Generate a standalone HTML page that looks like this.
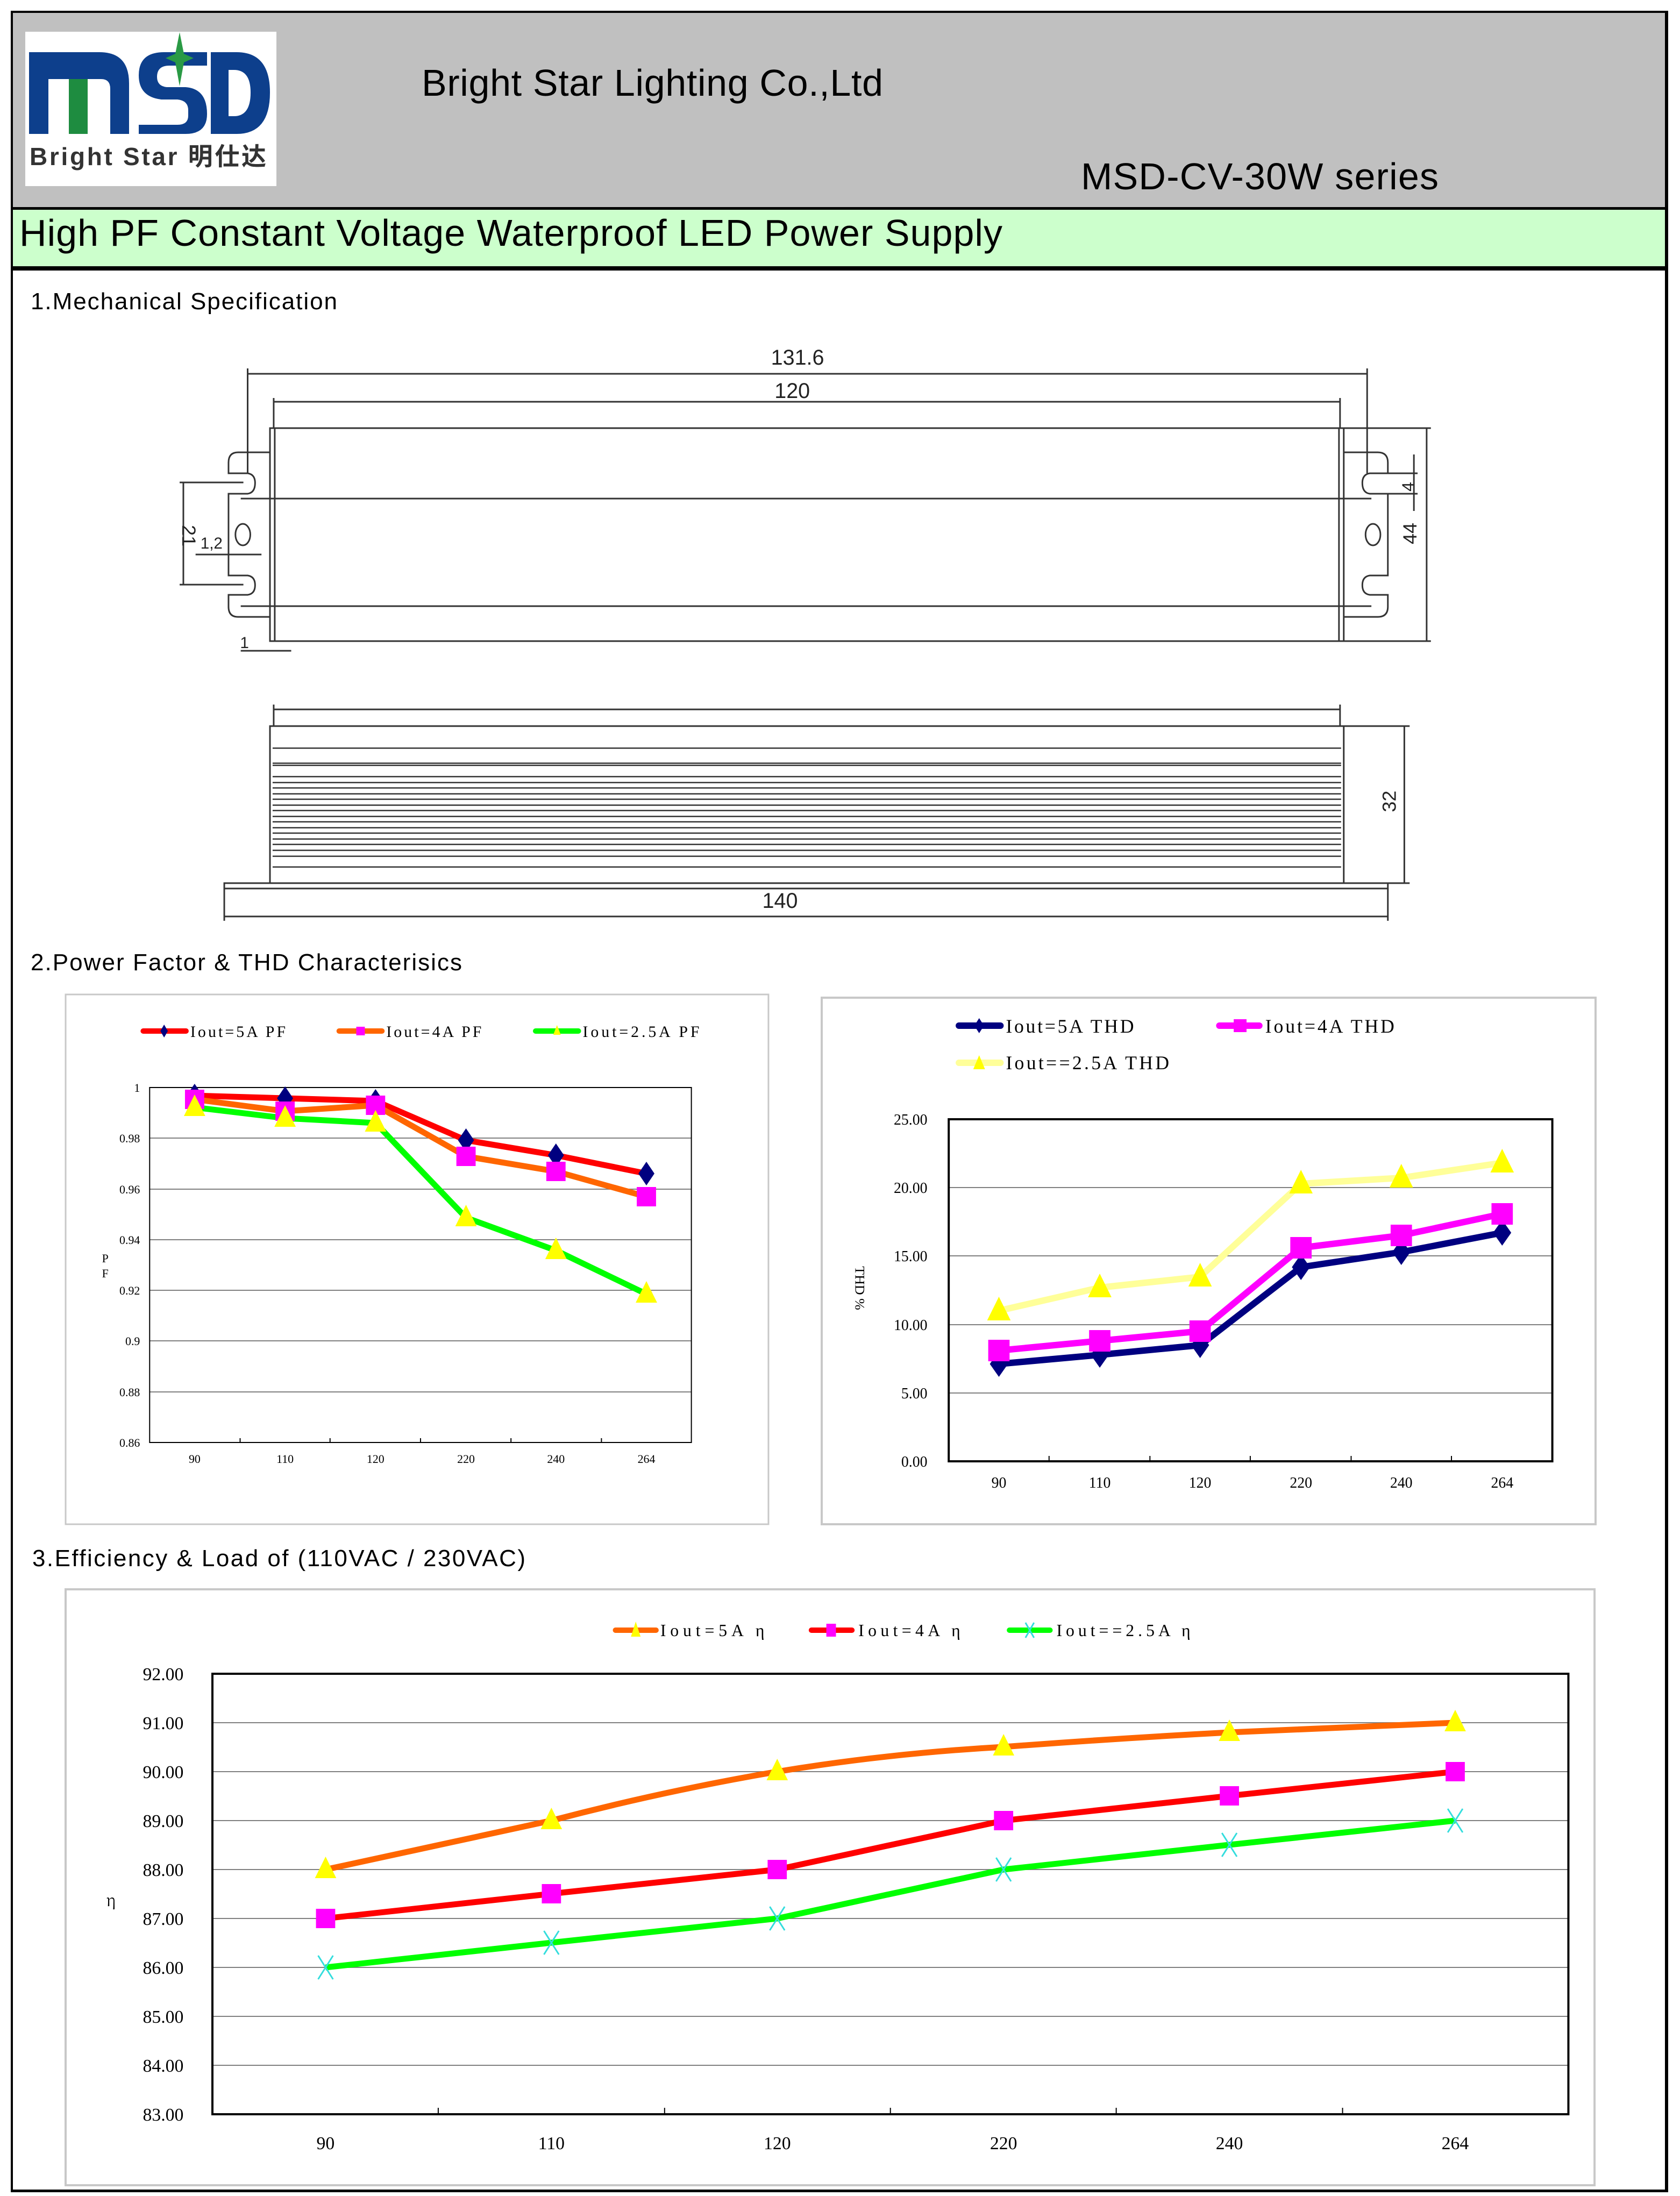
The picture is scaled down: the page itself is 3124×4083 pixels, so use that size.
<!DOCTYPE html>
<html><head><meta charset="utf-8"><style>html,body{margin:0;padding:0;background:#fff}svg{display:block}</style></head>
<body>
<svg width="3124" height="4083" viewBox="0 0 3124 4083" xmlns="http://www.w3.org/2000/svg">
<defs>
<path id="tri" d="M0,-24 L20,16 L-20,16 Z"/>
<path id="dia" d="M0,-22 L15,0 L0,22 L-15,0 Z"/>
<rect id="sq" x="-18" y="-18" width="36" height="36"/>
<path id="tri2" d="M0,-26 L22,18 L-22,18 Z"/>
<path id="dia2" d="M0,-24 L17,0 L0,24 L-17,0 Z"/>
<rect id="sq2" x="-20" y="-20" width="40" height="40"/>
<path id="xm" d="M-14,-22 L14,22 M14,-22 L-14,22" fill="none" stroke="#33dddd" stroke-width="3"/>
</defs>
<rect width="3124" height="4083" fill="#fff"/>
<!-- header -->
<rect x="22" y="22" width="3078" height="365" fill="#c0c0c0"/>
<rect x="22" y="389" width="3078" height="107" fill="#ccffcc"/>
<rect x="20" y="20" width="3082" height="4" fill="#000"/>
<rect x="20" y="385" width="3082" height="5" fill="#000"/>
<rect x="20" y="495" width="3082" height="8" fill="#000"/>
<rect x="20" y="20" width="4" height="4056" fill="#000"/>
<rect x="3096" y="20" width="6" height="4056" fill="#000"/>
<rect x="20" y="4071" width="3082" height="5" fill="#000"/>
<!-- logo -->
<rect x="47" y="59" width="467" height="287" fill="#fff"/>
<g fill="#0d3f8c">
<path d="M54,97 H185 Q240,97 240,155 V249 H205 V165 Q205,147 188,147 H90 V249 H54 Z"/>
<path d="M385,97 H305 Q258,97 258,140 Q258,180 300,185 H330 Q350,187 350,205 V215 Q350,232 330,232 H258 V249 H345 Q385,249 385,212 Q385,165 345,162 H310 Q292,160 292,143 Q292,122 315,122 H385 Z"/>
<path d="M392,97 H440 Q502,97 502,172 Q502,249 440,249 H392 Z M425,130 V216 H435 Q466,216 466,172 Q466,130 435,130 Z" fill-rule="evenodd"/>
</g>
<rect x="128" y="147" width="35" height="102" fill="#1e8c40"/>
<path d="M334,60 L342,100 L360,108 L342,116 L334,160 L326,116 L308,108 L326,100 Z" fill="#2a9a45"/>
<text x="55" y="307" font-family="Liberation Sans, 'Noto Sans CJK SC', sans-serif" font-weight="bold" font-size="46" fill="#333" textLength="440">Bright Star 明仕达</text>
<g font-family="Liberation Sans, sans-serif" fill="#000">
<text x="784" y="178" font-size="70" textLength="858">Bright Star Lighting Co.,Ltd</text>
<text x="2010" y="352" font-size="70" textLength="665">MSD-CV-30W series</text>
<text x="36" y="457" font-size="70" textLength="1828">High PF Constant Voltage Waterproof LED Power Supply</text>
<text x="57" y="575" font-size="44" textLength="570">1.Mechanical Specification</text>
<text x="57" y="1804" font-size="44" textLength="802">2.Power Factor &amp; THD Characterisics</text>
<text x="60" y="2912" font-size="44" textLength="917">3.Efficiency &amp; Load of (110VAC / 230VAC)</text>
</g>
<!-- mechanical drawing -->
<g transform="translate(502,0) scale(0.988,1) translate(-510,0)">
<g stroke="#333" stroke-width="3" fill="none">
<line x1="468" y1="695" x2="2575" y2="695"/>
<line x1="468" y1="685" x2="468" y2="880"/><line x1="2575" y1="685" x2="2575" y2="880"/>
<line x1="517" y1="747" x2="2524" y2="747"/>
<line x1="517" y1="740" x2="517" y2="796"/><line x1="2524" y1="740" x2="2524" y2="796"/>
<rect x="510" y="796" width="2021" height="396"/>
<line x1="519" y1="796" x2="519" y2="1192"/><line x1="2522" y1="796" x2="2522" y2="1192"/>
<path d="M510,841 H450 Q432,841 432,860 V880 H468 Q482,882 482,898 Q482,916 468,918 H432 V1070 H468 Q482,1072 482,1088 Q482,1104 468,1106 H432 V1128 Q432,1147 450,1147 H510"/>
<path d="M2531,841 H2595 Q2614,841 2614,860 V880 H2580 Q2566,882 2566,898 Q2566,916 2580,918 H2614 V1070 H2580 Q2566,1072 2566,1088 Q2566,1104 2580,1106 H2614 V1128 Q2614,1147 2595,1147 H2531"/>
<ellipse cx="459" cy="994" rx="14" ry="20"/>
<ellipse cx="2586" cy="994" rx="14" ry="20"/>
<line x1="455" y1="927" x2="2583" y2="927"/>
<line x1="455" y1="1127" x2="2583" y2="1127"/>
<line x1="2531" y1="796" x2="2695" y2="796"/><line x1="2531" y1="1192" x2="2695" y2="1192"/>
<line x1="2687" y1="796" x2="2687" y2="1192"/>
<line x1="2663" y1="845" x2="2663" y2="950"/>
<line x1="2614" y1="880" x2="2670" y2="880"/><line x1="2614" y1="918" x2="2670" y2="918"/>
<line x1="347" y1="897" x2="347" y2="1087"/>
<line x1="340" y1="897" x2="460" y2="897"/><line x1="340" y1="1087" x2="460" y2="1087"/>
<line x1="370" y1="1031" x2="494" y2="1031"/>
<line x1="455" y1="1210" x2="550" y2="1210"/>
<line x1="517" y1="1319" x2="2524" y2="1319"/>
<line x1="517" y1="1310" x2="517" y2="1350"/><line x1="2524" y1="1310" x2="2524" y2="1350"/>
<rect x="510" y="1350" width="2021" height="292"/>
<path d="M510,1642 H424 V1652 H2614 V1642 H2531"/>
<line x1="424" y1="1704" x2="2614" y2="1704"/>
<line x1="424" y1="1652" x2="424" y2="1712"/><line x1="2614" y1="1652" x2="2614" y2="1712"/>
<line x1="2531" y1="1350" x2="2655" y2="1350"/><line x1="2531" y1="1642" x2="2655" y2="1642"/>
<line x1="2645" y1="1350" x2="2645" y2="1642"/>
</g>
<g stroke="#333" stroke-width="2.5">
<line x1="515" y1="1391" x2="2526" y2="1391"/><line x1="515" y1="1419" x2="2526" y2="1419"/>
<line x1="515" y1="1423" x2="2526" y2="1423"/><line x1="515" y1="1444" x2="2526" y2="1444"/>
<line x1="515" y1="1455" x2="2526" y2="1455"/><line x1="515" y1="1465" x2="2526" y2="1465"/>
<line x1="515" y1="1476" x2="2526" y2="1476"/><line x1="515" y1="1486" x2="2526" y2="1486"/>
<line x1="515" y1="1497" x2="2526" y2="1497"/><line x1="515" y1="1507" x2="2526" y2="1507"/>
<line x1="515" y1="1518" x2="2526" y2="1518"/><line x1="515" y1="1528" x2="2526" y2="1528"/>
<line x1="515" y1="1539" x2="2526" y2="1539"/><line x1="515" y1="1549" x2="2526" y2="1549"/>
<line x1="515" y1="1560" x2="2526" y2="1560"/><line x1="515" y1="1570" x2="2526" y2="1570"/>
<line x1="515" y1="1581" x2="2526" y2="1581"/><line x1="515" y1="1592" x2="2526" y2="1592"/>
<line x1="515" y1="1612" x2="2526" y2="1612"/>
</g>
<g font-family="Liberation Sans, sans-serif" fill="#222" font-size="40" text-anchor="middle">
<text x="1503" y="678">131.6</text>
<text x="1493" y="740">120</text>
<text x="1470" y="1688">140</text>
<text x="400" y="1020" font-size="30">1,2</text>
<text x="462" y="1205" font-size="30">1</text>
<text transform="translate(2668,992) rotate(-90)" font-size="36">44</text>
<text transform="translate(2663,905) rotate(-90)" font-size="32">4</text>
<text transform="translate(345,996) rotate(90)" font-size="36">21</text>
<text transform="translate(2629,1490) rotate(-90)" font-size="36">32</text>
</g>
</g>
<!-- PF chart -->
<g transform="translate(122,0) scale(0.9954,1) translate(-123,0)">
<rect x="123" y="1849" width="1313" height="985" fill="#fff" stroke="#c8c8c8" stroke-width="3"/>
<g stroke="#808080" stroke-width="2">
<line x1="280" y1="2116" x2="1292" y2="2116"/><line x1="280" y1="2211" x2="1292" y2="2211"/>
<line x1="280" y1="2305" x2="1292" y2="2305"/><line x1="280" y1="2399" x2="1292" y2="2399"/>
<line x1="280" y1="2493" x2="1292" y2="2493"/><line x1="280" y1="2588" x2="1292" y2="2588"/>
</g>
<rect x="280" y="2022" width="1012" height="660" fill="none" stroke="#000" stroke-width="2"/>
<g stroke="#000" stroke-width="2">
<line x1="449" y1="2682" x2="449" y2="2674"/><line x1="617" y1="2682" x2="617" y2="2674"/>
<line x1="786" y1="2682" x2="786" y2="2674"/><line x1="955" y1="2682" x2="955" y2="2674"/>
<line x1="1124" y1="2682" x2="1124" y2="2674"/>
</g>
<g font-family="Liberation Serif, serif" font-size="22" fill="#000" text-anchor="end">
<text x="262" y="2030">1</text><text x="262" y="2124">0.98</text><text x="262" y="2219">0.96</text>
<text x="262" y="2313">0.94</text><text x="262" y="2407">0.92</text><text x="262" y="2501">0.9</text>
<text x="262" y="2596">0.88</text><text x="262" y="2690">0.86</text>
</g>
<g font-family="Liberation Serif, serif" font-size="22" fill="#000" text-anchor="middle">
<text x="364" y="2720">90</text><text x="533" y="2720">110</text><text x="702" y="2720">120</text>
<text x="871" y="2720">220</text><text x="1039" y="2720">240</text><text x="1208" y="2720">264</text>
<text x="197" y="2347">P</text><text x="197" y="2375">F</text>
</g>
<g fill="none" stroke-width="11" stroke-linejoin="round">
<polyline stroke="#ff0000" points="364,2037 533,2042 702,2047 871,2120 1039,2148 1208,2182"/>
<polyline stroke="#ff6600" points="364,2044 533,2066 702,2055 871,2150 1039,2178 1208,2225"/>
<polyline stroke="#00ff00" points="364,2059 533,2079 702,2088 871,2264 1039,2325 1208,2406"/>
</g>
<g fill="#000080">
<use href="#dia" x="364" y="2037"/><use href="#dia" x="533" y="2042"/><use href="#dia" x="702" y="2047"/>
<use href="#dia" x="871" y="2120"/><use href="#dia" x="1039" y="2148"/><use href="#dia" x="1208" y="2182"/>
</g>
<g fill="#ff00ff">
<use href="#sq" x="364" y="2044"/><use href="#sq" x="533" y="2066"/><use href="#sq" x="702" y="2055"/>
<use href="#sq" x="871" y="2150"/><use href="#sq" x="1039" y="2178"/><use href="#sq" x="1208" y="2225"/>
</g>
<g fill="#ffff00">
<use href="#tri" x="364" y="2059"/><use href="#tri" x="533" y="2079"/><use href="#tri" x="702" y="2088"/>
<use href="#tri" x="871" y="2264"/><use href="#tri" x="1039" y="2325"/><use href="#tri" x="1208" y="2406"/>
</g>
<g stroke-width="10" stroke-linecap="round">
<line x1="268" y1="1917" x2="348" y2="1917" stroke="#ff0000"/>
<line x1="634" y1="1917" x2="714" y2="1917" stroke="#ff6600"/>
<line x1="1001" y1="1917" x2="1081" y2="1917" stroke="#00ff00"/>
</g>
<path d="M307,1905 L314,1917 L307,1929 L300,1917 Z" fill="#000080"/>
<rect x="666" y="1909" width="16" height="16" fill="#ff00ff"/>
<path d="M1041,1906 L1048,1924 L1034,1924 Z" fill="#ffff00"/>
<g font-family="Liberation Serif, serif" font-size="30" fill="#000">
<text x="356" y="1928" textLength="178">Iout=5A PF</text>
<text x="722" y="1928" textLength="178">Iout=4A PF</text>
<text x="1089" y="1928" textLength="218">Iout=2.5A PF</text>
</g>
</g>
<!-- THD chart -->
<g transform="translate(1528,0) scale(0.9924,1) translate(-1527,0)">
<rect x="1527" y="1855" width="1450" height="979" fill="#fff" stroke="#c8c8c8" stroke-width="4"/>
<g stroke="#808080" stroke-width="2">
<line x1="1765" y1="2208" x2="2896" y2="2208"/><line x1="1765" y1="2335" x2="2896" y2="2335"/>
<line x1="1765" y1="2463" x2="2896" y2="2463"/><line x1="1765" y1="2590" x2="2896" y2="2590"/>
</g>
<rect x="1765" y="2081" width="1131" height="636" fill="none" stroke="#000" stroke-width="4"/>
<g stroke="#000" stroke-width="2">
<line x1="1953" y1="2717" x2="1953" y2="2707"/><line x1="2142" y1="2717" x2="2142" y2="2707"/>
<line x1="2330" y1="2717" x2="2330" y2="2707"/><line x1="2519" y1="2717" x2="2519" y2="2707"/>
<line x1="2707" y1="2717" x2="2707" y2="2707"/>
</g>
<g font-family="Liberation Serif, serif" font-size="28" fill="#000" text-anchor="end">
<text x="1725" y="2091">25.00</text><text x="1725" y="2218">20.00</text><text x="1725" y="2345">15.00</text>
<text x="1725" y="2473">10.00</text><text x="1725" y="2600">5.00</text><text x="1725" y="2727">0.00</text>
</g>
<g font-family="Liberation Serif, serif" font-size="28" fill="#000" text-anchor="middle">
<text x="1859" y="2766">90</text><text x="2048" y="2766">110</text><text x="2236" y="2766">120</text>
<text x="2425" y="2766">220</text><text x="2613" y="2766">240</text><text x="2802" y="2766">264</text>
<text transform="translate(1590,2395) rotate(90)" font-size="26">THD %</text>
</g>
<g fill="none" stroke-width="12" stroke-linejoin="round">
<polyline stroke="#ffff99" points="1859,2437 2048,2394 2236,2374 2425,2201 2613,2190 2802,2162"/>
<polyline stroke="#000080" points="1859,2536 2048,2519 2236,2501 2425,2356 2613,2328 2802,2292"/>
<polyline stroke="#ff00ff" points="1859,2511 2048,2493 2236,2475 2425,2320 2613,2297 2802,2257"/>
</g>
<g fill="#000080">
<use href="#dia2" x="1859" y="2536"/><use href="#dia2" x="2048" y="2519"/><use href="#dia2" x="2236" y="2501"/>
<use href="#dia2" x="2425" y="2356"/><use href="#dia2" x="2613" y="2328"/><use href="#dia2" x="2802" y="2292"/>
</g>
<g fill="#ff00ff">
<use href="#sq2" x="1859" y="2511"/><use href="#sq2" x="2048" y="2493"/><use href="#sq2" x="2236" y="2475"/>
<use href="#sq2" x="2425" y="2320"/><use href="#sq2" x="2613" y="2297"/><use href="#sq2" x="2802" y="2257"/>
</g>
<g fill="#ffff00">
<use href="#tri2" x="1859" y="2437"/><use href="#tri2" x="2048" y="2394"/><use href="#tri2" x="2236" y="2374"/>
<use href="#tri2" x="2425" y="2201"/><use href="#tri2" x="2613" y="2190"/><use href="#tri2" x="2802" y="2162"/>
</g>
<g stroke-width="12" stroke-linecap="round">
<line x1="1784" y1="1907" x2="1862" y2="1907" stroke="#000080"/>
<line x1="2272" y1="1907" x2="2347" y2="1907" stroke="#ff00ff"/>
<line x1="1784" y1="1976" x2="1862" y2="1976" stroke="#ffff99"/>
</g>
<path d="M1822,1893 L1831,1907 L1822,1921 L1813,1907 Z" fill="#000080"/>
<rect x="2299" y="1895" width="24" height="24" fill="#ff00ff"/>
<path d="M1822,1962 L1833,1988 L1811,1988 Z" fill="#ffff00"/>
<g font-family="Liberation Serif, serif" font-size="36" fill="#000">
<text x="1872" y="1920" textLength="240">Iout=5A THD</text>
<text x="2358" y="1920" textLength="242">Iout=4A THD</text>
<text x="1872" y="1988" textLength="306">Iout==2.5A THD</text>
</g>
</g>
<!-- Efficiency chart -->
<g transform="translate(122,0) scale(0.9927,1) translate(-120,0)">
<rect x="120" y="2955" width="2864" height="1108" fill="#fff" stroke="#c8c8c8" stroke-width="4"/>
<g stroke="#808080" stroke-width="2">
<line x1="395" y1="3203" x2="2935" y2="3203"/><line x1="395" y1="3294" x2="2935" y2="3294"/>
<line x1="395" y1="3385" x2="2935" y2="3385"/><line x1="395" y1="3476" x2="2935" y2="3476"/>
<line x1="395" y1="3567" x2="2935" y2="3567"/><line x1="395" y1="3658" x2="2935" y2="3658"/>
<line x1="395" y1="3749" x2="2935" y2="3749"/><line x1="395" y1="3840" x2="2935" y2="3840"/>
</g>
<rect x="395" y="3112" width="2540" height="819" fill="none" stroke="#000" stroke-width="4"/>
<g stroke="#000" stroke-width="2">
<line x1="818" y1="3931" x2="818" y2="3919"/><line x1="1242" y1="3931" x2="1242" y2="3919"/>
<line x1="1665" y1="3931" x2="1665" y2="3919"/><line x1="2088" y1="3931" x2="2088" y2="3919"/>
<line x1="2512" y1="3931" x2="2512" y2="3919"/>
</g>
<g font-family="Liberation Serif, serif" font-size="34" fill="#000" text-anchor="end">
<text x="341" y="3124">92.00</text><text x="341" y="3215">91.00</text><text x="341" y="3306">90.00</text>
<text x="341" y="3397">89.00</text><text x="341" y="3488">88.00</text><text x="341" y="3579">87.00</text>
<text x="341" y="3670">86.00</text><text x="341" y="3761">85.00</text><text x="341" y="3852">84.00</text>
<text x="341" y="3943">83.00</text>
</g>
<g font-family="Liberation Serif, serif" font-size="34" fill="#000" text-anchor="middle">
<text x="607" y="3996">90</text><text x="1030" y="3996">110</text><text x="1453" y="3996">120</text>
<text x="1877" y="3996">220</text><text x="2300" y="3996">240</text><text x="2723" y="3996">264</text>
<text x="205" y="3544" font-family="'Noto Serif CJK SC', serif" font-size="30">η</text>
</g>
<g fill="none" stroke-width="11" stroke-linejoin="round">
<path stroke="#ff6600" d="M607,3476 L1030,3385 Q1240,3330 1453,3294 Q1660,3260 1877,3248 Q2090,3232 2300,3221 L2723,3203"/>
<polyline stroke="#ff0000" points="607,3567 1030,3521 1453,3476 1877,3385 2300,3339 2723,3294"/>
<polyline stroke="#00ff00" points="607,3658 1030,3612 1453,3567 1877,3476 2300,3430 2723,3385"/>
</g>
<g fill="#ffff00">
<use href="#tri" x="607" y="3476"/><use href="#tri" x="1030" y="3385"/><use href="#tri" x="1453" y="3294"/>
<use href="#tri" x="1877" y="3248"/><use href="#tri" x="2300" y="3221"/><use href="#tri" x="2723" y="3203"/>
</g>
<g fill="#ff00ff">
<use href="#sq" x="607" y="3567"/><use href="#sq" x="1030" y="3521"/><use href="#sq" x="1453" y="3476"/>
<use href="#sq" x="1877" y="3385"/><use href="#sq" x="2300" y="3339"/><use href="#sq" x="2723" y="3294"/>
</g>
<use href="#xm" x="607" y="3658"/><use href="#xm" x="1030" y="3612"/><use href="#xm" x="1453" y="3567"/>
<use href="#xm" x="1877" y="3476"/><use href="#xm" x="2300" y="3430"/><use href="#xm" x="2723" y="3385"/>
<g stroke-width="10" stroke-linecap="round">
<line x1="1150" y1="3031" x2="1226" y2="3031" stroke="#ff6600"/>
<line x1="1517" y1="3031" x2="1593" y2="3031" stroke="#ff0000"/>
<line x1="1888" y1="3031" x2="1964" y2="3031" stroke="#00ff00"/>
</g>
<path d="M1188,3015 L1197,3043 L1179,3043 Z" fill="#ffff00"/>
<rect x="1545" y="3019" width="18" height="24" fill="#ff00ff"/>
<path d="M1918,3017 L1934,3045 M1934,3017 L1918,3045" stroke="#33dddd" stroke-width="3"/>
<g font-family="Liberation Serif, 'Noto Serif CJK SC', serif" font-size="32" fill="#000">
<text x="1234" y="3042" textLength="195">Iout=5A η</text>
<text x="1605" y="3042" textLength="191">Iout=4A η</text>
<text x="1976" y="3042" textLength="251">Iout==2.5A η</text>
</g>
</g>
</svg>
</body></html>
